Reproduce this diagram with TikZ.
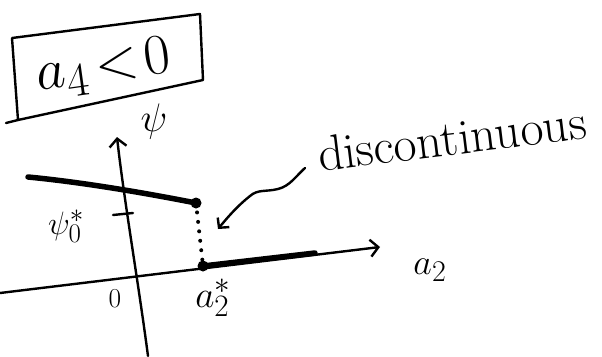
\documentclass[tikz,border=0pt]{standalone}
\usetikzlibrary{arrows.meta}
\begin{document}
\begin{tikzpicture}[x=1pt,y=-1pt,
  thinline/.style={line width=2.4pt, line cap=round, line join=round},
  thickline/.style={line width=5.5pt, line cap=round},
  barb/.style={-{Straight Barb[length=8pt,width=17pt,line width=2.4pt]}},
  lbl/.style={inner sep=0pt, outer sep=0pt, font=\Huge}]
\useasboundingbox (0,0) rectangle (602,356);
% title box
\coordinate (btl) at (12,38);
\coordinate (btr) at (200,14);
\coordinate (bbr) at (203,80);
\coordinate (bbl) at (18,120);
\coordinate (bext) at (6,123);
\draw[thinline] (btl) -- (btr) -- (bbr) -- (bbl) -- (btl);
\draw[thinline] (bbl) -- (bext);
\node[lbl, rotate=8] (title) at (104,68) {\scalebox{2.3}{$a_4\!<\!0$}};
% axes
\coordinate (psibot) at (148,356);
\coordinate (psitop) at (117,137);
\coordinate (a2left) at (0,293);
\coordinate (a2tip) at (380,247);
\draw[thinline, barb] (psibot) .. controls (138,280) and (124,200) .. (psitop);
\draw[thinline, barb] (a2left) -- (a2tip);
\node[lbl] (psilbl) at (154,122) {\scalebox{1.6}{$\psi$}};
\node[lbl] (a2lbl) at (430,270) {\scalebox{1.45}{$a_2$}};
% tick
\coordinate (ticka) at (113,215);
\coordinate (tickb) at (133,213);
\draw[thinline] (ticka) -- (tickb);
\node[lbl] (psi0) at (66,226) {\scalebox{1.3}{$\psi_0^*$}};
\node[lbl] (zero) at (115,299) {\scalebox{1.1}{$0$}};
\node[lbl] (a2star) at (213,298) {\scalebox{1.5}{$a_2^*$}};
% branches
\coordinate (upstart) at (28,177);
\coordinate (updot) at (196,203);
\coordinate (lowdot) at (203,266);
\coordinate (lowend) at (315,253);
\draw[thickline] (upstart) .. controls (80,182) and (140,192) .. (updot);
\fill (updot) circle (5.5);
\draw[line width=4pt, line cap=round, dash pattern=on 0pt off 9.5pt] (updot) -- (lowdot);
\draw[thickline] (lowdot) -- (lowend);
\fill (lowdot) circle (5.5);
% annotation
\node[lbl, rotate=7, font=\fontsize{50}{50}\selectfont] (disc) at (452,138) {discontinuous};
\coordinate (arrowend) at (218,229);
\draw[thinline, -{Straight Barb[length=7pt,width=15pt,line width=2.4pt]}]
  (305,168) .. controls (296,176) and (290,186) .. (278,189)
  .. controls (266,192) and (258,189) .. (250,196)
  .. controls (240,204) and (232,212) .. (arrowend);
\end{tikzpicture}
\end{document}
